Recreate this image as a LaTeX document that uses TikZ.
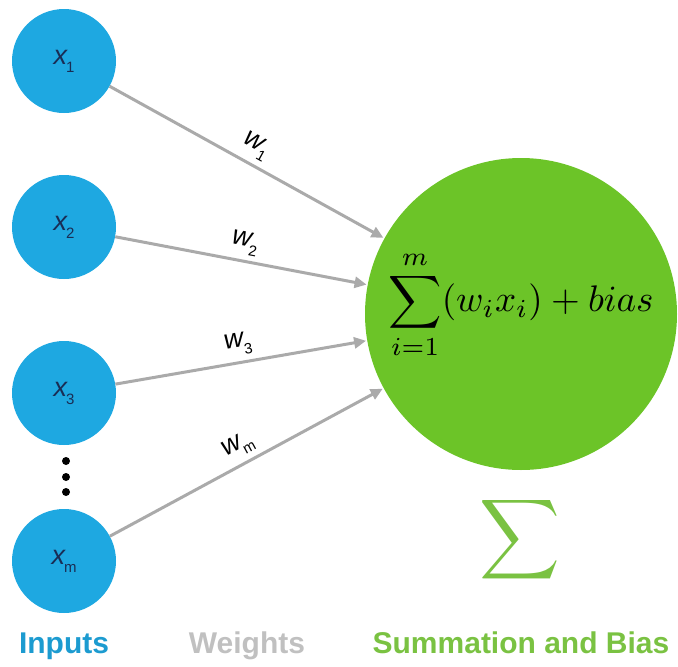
\documentclass[tikz,border=0pt]{standalone}
\usepackage{fontspec}
\setmainfont{Liberation Sans}
\setsansfont{Liberation Sans}
\usetikzlibrary{arrows.meta}
\definecolor{inblue}{RGB}{30,168,225}
\definecolor{labblue}{RGB}{28,155,208}
\definecolor{navy}{RGB}{25,45,85}
\definecolor{sumgreen}{RGB}{108,196,40}
\definecolor{labgreen}{RGB}{122,194,66}
\definecolor{wgray}{RGB}{170,170,170}
\definecolor{labgray}{RGB}{192,192,192}
\newcommand\mysub[1]{\kern-1pt\raisebox{-0.3em}{\fontsize{15}{17}\selectfont\upshape #1}}
\begin{document}
\begin{tikzpicture}[x=1pt,y=-1pt,
  inputnode/.style={circle,fill=inblue,minimum size=104pt,inner sep=0pt,text=navy,font=\fontsize{27}{30}\selectfont\itshape},
  sumnode/.style={circle,fill=sumgreen,minimum size=312pt,inner sep=0pt},
  weightarrow/.style={draw=wgray,line width=3pt,-{Triangle[length=12pt,width=11pt]},shorten >=1pt},
  wlabel/.style={midway,sloped,above=2pt,text=black,font=\fontsize{27}{30}\selectfont\itshape},
  dotnode/.style={circle,fill=black,minimum size=8pt,inner sep=0pt},
  caption/.style={anchor=base,font=\fontsize{30}{36}\selectfont\bfseries}]
\useasboundingbox (0,0) rectangle (678,667);
\node[sumnode] (sum) at (521,314) {};
\node[scale=3.7] (formula) at (521,305) {$\displaystyle\sum_{i=1}^{m}(w_ix_i)+bias$};
\node[inputnode] (x1) at (64,61) {x\mysub{1}};
\node[inputnode] (x2) at (64,227) {x\mysub{2}};
\node[inputnode] (x3) at (64,393) {x\mysub{3}};
\node[inputnode] (xm) at (64,561) {x\mysub{m}};
\node[dotnode] (d1) at (66,461) {};
\node[dotnode] (d2) at (66,477) {};
\node[dotnode] (d3) at (66,492) {};
\draw[weightarrow] (x1) -- (sum) node[wlabel] {w\mysub{1}};
\draw[weightarrow] (x2) -- (sum) node[wlabel] {w\mysub{2}};
\draw[weightarrow] (x3) -- (sum) node[wlabel] {w\mysub{3}};
\draw[weightarrow] (xm) -- (sum) node[wlabel] {w\mysub{m}};
\node[text=labgreen,scale=5.6] (bigsigma) at (520,540) {$\displaystyle\sum$};
\node[caption,text=labblue] (inputs) at (64,653) {Inputs};
\node[caption,text=labgray] (weights) at (247,653) {Weights};
\node[caption,text=labgreen] (sumbias) at (521,653) {Summation and Bias};
\end{tikzpicture}
\end{document}
